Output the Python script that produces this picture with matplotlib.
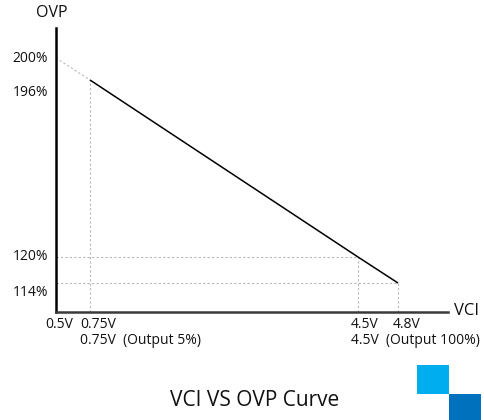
import matplotlib
matplotlib.use("Agg")
import matplotlib.pyplot as plt
import numpy as np
from matplotlib.patches import Rectangle

plt.rcParams["font.family"] = ["Open Sans", "DejaVu Sans"]

# curve values (VCI in volts, OVP in percent)
vci_points = [0.75, 4.5, 4.8]
ovp_points = [196, 120, 114]
# dotted extension back to the 0.5V start
vci_start = [0.5, 0.75]
ovp_start = [200, 196]

x_tick_values = [0.5, 0.75, 4.5, 4.8]
x_tick_labels = ["0.5V", "0.75V", "4.5V", "4.8V"]
x_sub_values = [0.75, 4.5]
x_sub_labels = ["0.75V  (Output 5%)", "4.5V  (Output 100%)"]
y_tick_values = [200, 196, 120, 114]
y_tick_labels = ["200%", "196%", "120%", "114%"]

# schematic (non-linear) axis: value knots -> pixel positions
x_knots = [0.5, 0.75, 4.5, 4.8, 5.175]
x_pix = [56, 90, 358, 398, 448]
y_knots = [107.3, 114, 120, 196, 200, 205.5]
y_pix = [108, 137, 163, 340, 362, 392]


def _piecewise(knots, pix):
    fwd = lambda v: np.interp(v, knots, pix)
    inv = lambda p: np.interp(p, pix, knots)
    return fwd, inv


W, H = 484, 420
fig = plt.figure(figsize=(W / 100, H / 100), dpi=100)
ax = fig.add_axes([56 / W, 108 / H, (448 - 56) / W, (392 - 108) / H])
ax.set_xscale("function", functions=_piecewise(x_knots, x_pix))
ax.set_yscale("function", functions=_piecewise(y_knots, y_pix))
ax.set_xlim(x_knots[0], x_knots[-1])
ax.set_ylim(y_knots[0], y_knots[-1])

guide = dict(color="#b8b8b8", lw=0.8, ls=(0, (2, 2)))
x0, y0 = x_knots[0], y_knots[0]
# guide lines
ax.plot([0.75, 0.75], [y0, 196], **guide)
ax.plot([x0, 4.5], [120, 120], **guide)
ax.plot([4.5, 4.5], [y0, 120], **guide)
ax.plot([x0, 4.8], [114, 114], **guide)
ax.plot([4.8, 4.8], [y0, 114], **guide)
ax.plot(vci_start, ovp_start, **guide)

ax.plot(vci_points, ovp_points, color="black", lw=1.1, solid_capstyle="butt")

for s in ("top", "right"):
    ax.spines[s].set_visible(False)
ax.spines["left"].set_color("black")
ax.spines["left"].set_linewidth(1.8)
ax.spines["bottom"].set_color("#3a3a3a")
ax.spines["bottom"].set_linewidth(1.8)
ax.set_xticks([])
ax.set_yticks([])

fs = 10
ink = "#111111"
x_off = [-11, -10, -7, -5]
for v, lab, dx in zip(x_tick_values, x_tick_labels, x_off):
    ax.annotate(lab, xy=(v, 0), xycoords=("data", "axes fraction"),
                xytext=(dx, -12), textcoords="offset pixels",
                ha="left", va="center", fontsize=fs, color=ink)
for v, lab, dx in zip(x_sub_values, x_sub_labels, [-10, -7]):
    ax.annotate(lab, xy=(v, 0), xycoords=("data", "axes fraction"),
                xytext=(dx, -29), textcoords="offset pixels",
                ha="left", va="center", fontsize=fs, color=ink)

y_off = [-1, -12, 0, -9]
for v, lab, dy in zip(y_tick_values, y_tick_labels, y_off):
    ax.annotate(lab, xy=(0, v), xycoords=("axes fraction", "data"),
                xytext=(-8, dy), textcoords="offset pixels",
                ha="right", va="center", fontsize=fs, color=ink)

fig.text(52 / W, 1 - 13 / H, "OVP", ha="center", va="center", fontsize=11.5, color=ink)
fig.text(467 / W, 1 - 311 / H, "VCI", ha="center", va="center", fontsize=12, color=ink)
fig.text(255 / W, 1 - 400 / H, "VCI VS OVP Curve", ha="center", va="center",
         fontsize=15, color=ink)

# corner logo blocks
fig.patches.append(Rectangle((417 / W, 1 - 394 / H), 32 / W, 29 / H,
                             transform=fig.transFigure, color="#00adee", lw=0))
fig.patches.append(Rectangle((449 / W, 0), 32 / W, 26 / H,
                             transform=fig.transFigure, color="#0071bd", lw=0))

fig.savefig("out.png", dpi=100)
